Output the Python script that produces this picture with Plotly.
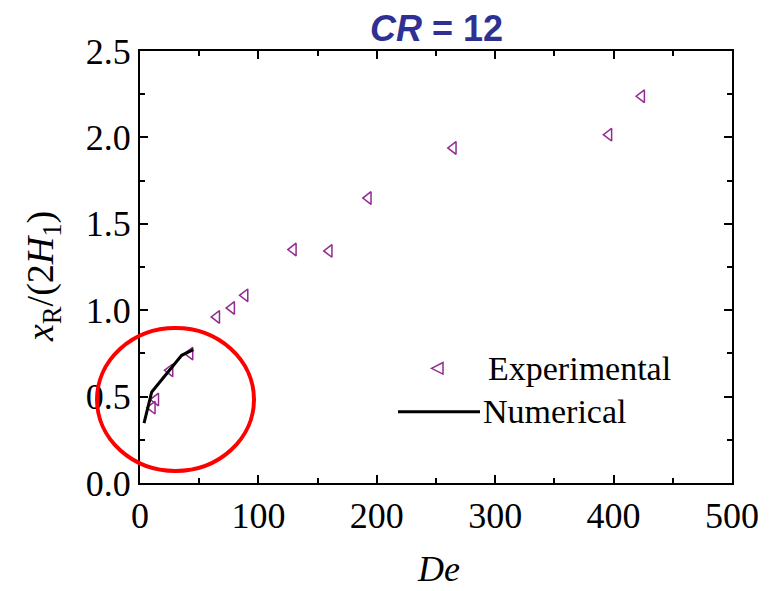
import plotly.graph_objects as go

# ---- data ----
exp_de = [10.4, 13.3, 25.3, 42.2, 64.8, 77.4, 88.7, 129.5, 159.8, 192.8, 264.6, 396.0, 423.7]
exp_xr = [0.436, 0.483, 0.652, 0.749, 0.961, 1.013, 1.086, 1.351, 1.343, 1.649, 1.939, 2.016, 2.238]
num_de = [3.4, 9.9, 35.2, 45.0]
num_xr = [0.347, 0.527, 0.739, 0.772]

x_ticks = [0, 100, 200, 300, 400, 500]
y_ticks = [0.0, 0.5, 1.0, 1.5, 2.0, 2.5]

W, H = 780, 591
ML, MR, MT, MB = 140, 48, 51, 108
PW, PH = W - ML - MR, H - MT - MB


def px(xp):
    return (xp - ML) / PW


def py(yp):
    return (H - MB - yp) / PH


PURPLE = "#922a91"
SERIF = "Liberation Serif, Times New Roman, serif"

fig = go.Figure()
fig.add_trace(go.Scatter(
    x=exp_de, y=exp_xr, mode="markers", name="Experimental",
    marker=dict(symbol="triangle-left-open", size=11, color=PURPLE,
                line=dict(width=1.5, color=PURPLE)),
    showlegend=False, cliponaxis=False))
fig.add_trace(go.Scatter(
    x=num_de, y=num_xr, mode="lines", name="Numerical",
    line=dict(color="black", width=3), showlegend=False))

axis_common = dict(
    ticks="inside", ticklen=8, tickwidth=2, tickcolor="black",
    showline=True, linewidth=2, linecolor="black", mirror="ticks",
    showgrid=False, zeroline=False,
    tickfont=dict(family=SERIF, size=36, color="black"),
)

fig.update_xaxes(range=[0, 500], tickvals=x_ticks, ticktext=[str(v) for v in x_ticks],
                 minor=dict(dtick=50, ticklen=5, tickwidth=2, ticks="inside", tickcolor="black"),
                 **axis_common)
fig.update_yaxes(range=[0, 2.5], tickvals=y_ticks, ticktext=[f"{v:.1f}" for v in y_ticks],
                 minor=dict(dtick=0.25, ticklen=5, tickwidth=2, ticks="inside", tickcolor="black"),
                 **axis_common)

annotations = [
    dict(text="<b><i>CR</i> = 12</b>", x=0.5, y=py(28), xref="paper", yref="paper",
         xanchor="center", yanchor="middle", showarrow=False,
         font=dict(family="Liberation Sans, Arial, sans-serif", size=36, color="#2e3192")),
    dict(text="<i>De</i>", x=px(438), y=py(569), xref="paper", yref="paper",
         xanchor="center", yanchor="middle", showarrow=False,
         font=dict(family=SERIF, size=36, color="black")),
    dict(text="<i>x</i><sub>R</sub>/(2<i>H</i><sub>1</sub>)", x=px(43), y=py(277),
         xref="paper", yref="paper", xanchor="center", yanchor="middle",
         textangle=-90, showarrow=False,
         font=dict(family=SERIF, size=38, color="black")),
    dict(text="Experimental", x=px(486), y=py(368.5), xref="paper", yref="paper",
         xanchor="left", yanchor="middle", showarrow=False,
         font=dict(family=SERIF, size=34, color="black")),
    dict(text="Numerical", x=px(481), y=py(411.5), xref="paper", yref="paper",
         xanchor="left", yanchor="middle", showarrow=False,
         font=dict(family=SERIF, size=34, color="black")),
]

tri = (f"M {px(431.5)},{py(368.3)} L {px(443)},{py(362.5)} "
       f"L {px(443)},{py(374.1)} Z")

shapes = [
    dict(type="path", path=tri, xref="paper", yref="paper",
         line=dict(color=PURPLE, width=1.5)),
    dict(type="line", x0=px(398), x1=px(480), y0=py(411.7), y1=py(411.7),
         xref="paper", yref="paper", line=dict(color="black", width=3)),
    dict(type="circle", x0=px(97), x1=px(254), y0=py(471), y1=py(328),
         xref="paper", yref="paper", layer="above",
         line=dict(color="#ff0000", width=4)),
]

fig.update_layout(
    width=W, height=H,
    margin=dict(l=ML, r=MR, t=MT, b=MB, pad=0),
    paper_bgcolor="white", plot_bgcolor="white",
    showlegend=False,
    annotations=annotations, shapes=shapes,
)

fig.write_html("out.html")
